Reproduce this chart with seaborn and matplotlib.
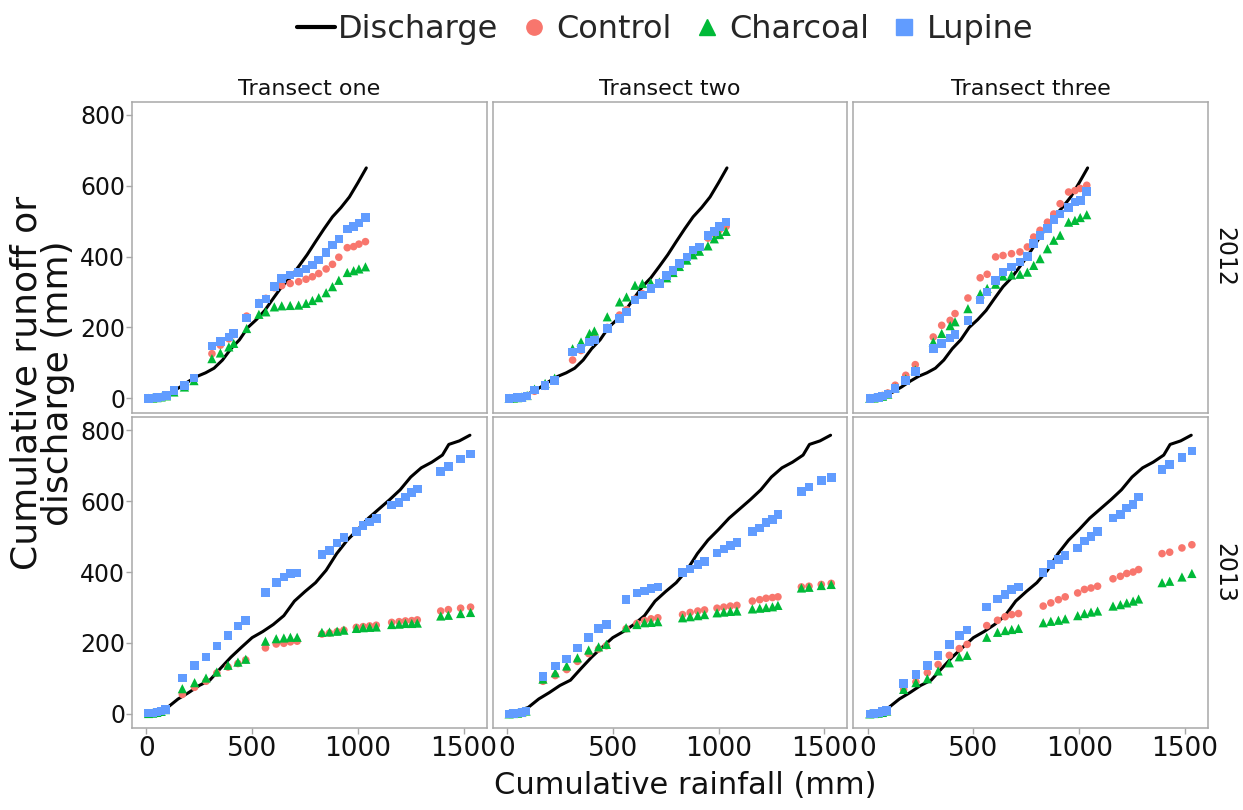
import pandas as pd
import matplotlib
matplotlib.use("Agg")
import matplotlib.pyplot as plt
from matplotlib.lines import Line2D
import seaborn as sns

# cumulative rainfall (mm) at each runoff sampling, shared by all plots of a year
rain_2012 = [10, 30, 50, 70, 95, 130, 180, 225, 310, 350, 390, 413, 474, 532, 565,
             605, 640, 680, 720, 755, 785, 815, 850, 880, 910, 950, 980, 1005, 1036]
rain_2013 = [10, 30, 50, 70, 90, 170, 228, 282, 333, 386, 433, 470, 563, 614, 650,
             681, 713, 830, 866, 902, 934, 993, 1025, 1056, 1087, 1160, 1195, 1225,
             1255, 1281, 1392, 1428, 1486, 1533]

# catchment discharge, same curve in every transect
dis_rain_2012 = [0, 40, 80, 120, 160, 200, 240, 280, 320, 360, 400, 440, 480, 520,
                 560, 600, 640, 680, 720, 760, 800, 840, 880, 920, 960, 1000, 1040]
dis_2012 = [0, 3, 8, 18, 32, 48, 62, 72, 85, 108, 140, 165, 200, 222, 248, 282, 315,
            340, 372, 405, 442, 478, 512, 538, 568, 608, 650]
dis_rain_2013 = [0, 50, 100, 150, 200, 250, 300, 350, 400, 450, 500, 550, 600, 650,
                 700, 750, 800, 850, 900, 950, 1000, 1050, 1100, 1150, 1200, 1250,
                 1300, 1350, 1400, 1430, 1480, 1530]
dis_2013 = [0, 8, 18, 42, 60, 80, 95, 128, 160, 188, 215, 232, 252, 277, 318, 345,
            370, 405, 452, 490, 520, 552, 578, 604, 632, 668, 694, 710, 730, 760,
            770, 786]

# cumulative runoff (mm), 2012
t1_2012_control = [0, 1, 2, 4, 8, 20, 35, 55, 126, 150, 168, 180, 232, 270, 282, 312,
                   318, 324, 329, 336, 343, 352, 365, 378, 398, 425, 428, 435, 442]
t1_2012_charcoal = [0, 1, 2, 4, 7, 18, 32, 50, 112, 128, 145, 155, 197, 237, 244, 258,
                    261, 262, 263, 268, 276, 284, 298, 315, 333, 355, 360, 365, 371]
t1_2012_lupine = [0, 1, 2, 4, 8, 22, 37, 57, 148, 160, 173, 183, 227, 268, 280, 315,
                  338, 348, 355, 365, 376, 390, 412, 432, 450, 478, 485, 495, 510]
t2_2012_control = [0, 1, 2, 3, 6, 20, 34, 50, 108, 135, 160, 170, 200, 235, 250, 280,
                   295, 312, 326, 345, 360, 378, 396, 414, 425, 452, 465, 476, 485]
t2_2012_charcoal = [0, 1, 2, 4, 8, 26, 42, 57, 140, 159, 183, 190, 230, 272, 286, 319,
                    324, 326, 328, 340, 355, 372, 390, 405, 415, 430, 450, 462, 471]
t2_2012_lupine = [0, 1, 2, 3, 6, 23, 37, 51, 131, 140, 159, 165, 197, 225, 244, 277,
                  291, 310, 324, 347, 361, 380, 399, 418, 427, 460, 471, 485, 497]
t3_2012_control = [0, 2, 4, 8, 15, 37, 65, 95, 173, 206, 220, 239, 283, 340, 350, 399,
                   403, 408, 413, 427, 455, 474, 497, 520, 549, 582, 586, 592, 601]
t3_2012_charcoal = [0, 1, 3, 6, 12, 30, 55, 80, 159, 183, 205, 216, 253, 295, 310, 322,
                    345, 348, 350, 356, 375, 394, 422, 446, 460, 497, 502, 510, 518]
t3_2012_lupine = [0, 1, 3, 6, 12, 28, 50, 75, 140, 155, 170, 180, 220, 278, 300, 333,
                  356, 370, 385, 400, 436, 460, 479, 505, 520, 539, 554, 558, 584]

# cumulative runoff (mm), 2013
t1_2013_control = [1, 2, 4, 7, 12, 55, 75, 92, 115, 132, 142, 152, 186, 197, 199, 203,
                   205, 225, 228, 232, 236, 244, 246, 248, 250, 258, 260, 262, 263, 265,
                   290, 294, 298, 301]
t1_2013_charcoal = [1, 2, 4, 7, 12, 71, 88, 101, 118, 137, 146, 154, 205, 212, 214, 216,
                    216, 230, 231, 233, 236, 241, 243, 244, 245, 252, 253, 255, 255, 256,
                    276, 278, 283, 286]
t1_2013_lupine = [2, 3, 5, 8, 12, 101, 137, 160, 191, 221, 248, 264, 342, 370, 386, 396,
                  397, 449, 461, 482, 497, 515, 532, 541, 551, 589, 596, 612, 624, 634,
                  683, 697, 719, 733]
t2_2013_control = [0, 1, 2, 4, 8, 92, 108, 125, 148, 170, 183, 192, 240, 255, 263, 268,
                   271, 280, 286, 290, 293, 298, 301, 304, 306, 318, 322, 326, 328, 330,
                   358, 360, 365, 368]
t2_2013_charcoal = [0, 1, 2, 4, 8, 98, 116, 135, 158, 180, 189, 196, 243, 252, 257, 258,
                    260, 271, 274, 277, 280, 285, 287, 289, 290, 296, 298, 300, 302, 306,
                    355, 357, 362, 365]
t2_2013_lupine = [0, 1, 2, 4, 8, 106, 135, 155, 186, 215, 240, 252, 323, 341, 346, 354,
                  358, 398, 409, 421, 430, 454, 465, 475, 484, 515, 524, 539, 548, 562,
                  628, 640, 659, 667]
t3_2013_control = [0, 1, 2, 4, 8, 69, 90, 116, 139, 165, 184, 196, 249, 264, 274, 280,
                   283, 304, 313, 322, 330, 341, 351, 355, 360, 381, 388, 396, 400, 407,
                   452, 456, 468, 477]
t3_2013_charcoal = [0, 1, 2, 4, 8, 69, 88, 99, 121, 144, 161, 165, 216, 230, 235, 238,
                    241, 257, 261, 264, 268, 277, 283, 287, 290, 304, 308, 313, 318, 324,
                    370, 374, 386, 396]
t3_2013_lupine = [0, 1, 3, 6, 10, 86, 111, 137, 165, 196, 221, 236, 302, 324, 337, 351,
                  358, 398, 421, 435, 446, 468, 487, 501, 515, 553, 562, 581, 590, 612,
                  689, 703, 723, 742]

years = ["2012", "2013"]
transects = ["Transect one", "Transect two", "Transect three"]
treatments = ["Control", "Charcoal", "Lupine"]

runoff = {
    ("2012", "Transect one"): (t1_2012_control, t1_2012_charcoal, t1_2012_lupine),
    ("2012", "Transect two"): (t2_2012_control, t2_2012_charcoal, t2_2012_lupine),
    ("2012", "Transect three"): (t3_2012_control, t3_2012_charcoal, t3_2012_lupine),
    ("2013", "Transect one"): (t1_2013_control, t1_2013_charcoal, t1_2013_lupine),
    ("2013", "Transect two"): (t2_2013_control, t2_2013_charcoal, t2_2013_lupine),
    ("2013", "Transect three"): (t3_2013_control, t3_2013_charcoal, t3_2013_lupine),
}
rain = {"2012": rain_2012, "2013": rain_2013}
discharge = {"2012": (dis_rain_2012, dis_2012), "2013": (dis_rain_2013, dis_2013)}

rows = []
for (year, tr), series in runoff.items():
    for trt, vals in zip(treatments, series):
        for r, v in zip(rain[year], vals):
            rows.append({"year": year, "transect": tr, "treatment": trt,
                         "rain": r, "runoff": v})
df = pd.DataFrame(rows)

sns.set_style("white")
plt.rcParams["font.family"] = ["DejaVu Sans"]

palette = {"Control": "#F8766D", "Charcoal": "#00BA38", "Lupine": "#619CFF"}
markers = {"Control": "o", "Charcoal": "^", "Lupine": "s"}
sizes = {"Control": 30, "Charcoal": 44, "Lupine": 38}
grey = "#a8a8a8"
ink = "#111111"

fig, axes = plt.subplots(2, 3, figsize=(12.43, 8.10), dpi=100, sharex=True, sharey=True)
fig.subplots_adjust(left=0.1062, right=0.9718, top=0.8741, bottom=0.1012,
                    wspace=0.017, hspace=0.016)

for i, year in enumerate(years):
    for j, tr in enumerate(transects):
        ax = axes[i, j]
        dx, dy = discharge[year]
        sns.lineplot(x=dx, y=dy, color="black", linewidth=2.2, estimator=None,
                     ax=ax, legend=False)
        sub = df[(df.year == year) & (df.transect == tr)]
        sns.scatterplot(data=sub, x="rain", y="runoff", hue="treatment",
                        style="treatment", size="treatment", hue_order=treatments,
                        palette=palette, markers=markers, sizes=sizes,
                        linewidth=0, ax=ax, legend=False, zorder=3)
        ax.set_xlim(-68, 1609)
        ax.set_ylim(-40, 836)
        ax.set_xticks([0, 500, 1000, 1500])
        ax.set_yticks([0, 200, 400, 600, 800])
        ax.set_xlabel("")
        ax.set_ylabel("")
        for sp in ax.spines.values():
            sp.set_color(grey)
            sp.set_linewidth(1.1)
        ax.tick_params(axis="both", direction="out", length=4, width=1,
                       color=grey, labelcolor=ink, bottom=(i == 1), left=(j == 0))
        ax.tick_params(axis="x", labelsize=19, pad=2)
        ax.tick_params(axis="y", labelsize=17, pad=1)
        if i == 0:
            ax.set_title(tr, fontsize=16, pad=5, color=ink)
        if j == 2:
            ax.text(1.012, 0.5, year, transform=ax.transAxes, rotation=-90,
                    ha="left", va="center", fontsize=17, color=ink)

fig.text(0.551, 0.030, "Cumulative rainfall (mm)", ha="center", va="center",
         fontsize=22, color=ink)
fig.text(0.034, 0.527, "Cumulative runoff or\ndischarge (mm)", ha="center",
         va="center", rotation=90, fontsize=26, color=ink, linespacing=0.9)

handles = [Line2D([], [], color="black", linewidth=3)]
for trt in treatments:
    handles.append(Line2D([], [], linestyle="", marker=markers[trt],
                          markersize=11, color=palette[trt]))
fig.legend(handles, ["Discharge"] + treatments, loc="center", ncol=4,
           bbox_to_anchor=(0.535, 0.963), frameon=False, fontsize=23,
           handlelength=1.2, handletextpad=0.1, columnspacing=0.5)

fig.savefig("out.png", dpi=100)
